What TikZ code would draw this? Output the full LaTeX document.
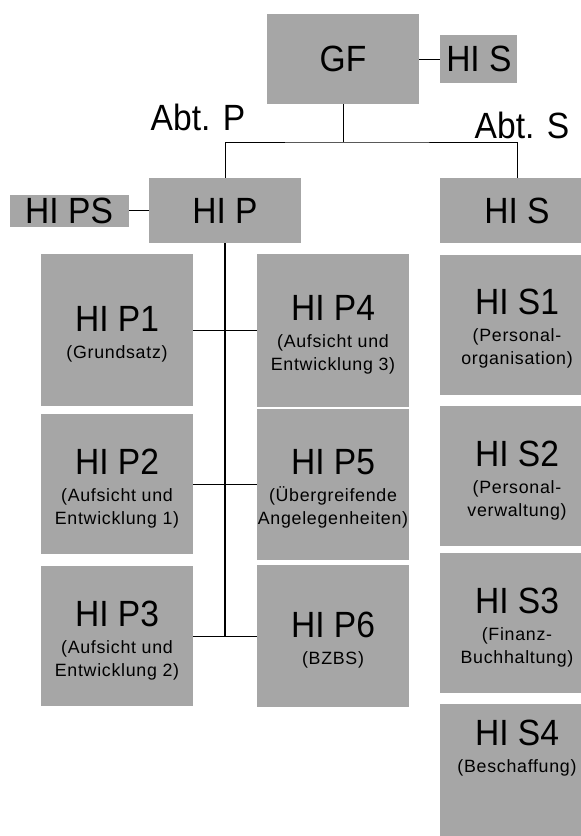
\documentclass[tikz,border=0pt]{standalone}
\usepackage{fontspec}
\setmainfont{Liberation Sans}
\newfontfamily\bigfamily[FakeStretch=0.92]{Liberation Sans}
\newfontfamily\smallfamily[LetterSpace=4]{Liberation Sans}
\usetikzlibrary{positioning}
\definecolor{unitgray}{RGB}{166,166,166}
\newcommand\bigsize{\bigfamily\fontsize{36.5}{40}\selectfont}
\newcommand\smallsize{\smallfamily\fontsize{17.8}{23}\selectfont}
\newcommand\unitname[1]{{\bigsize\rule{0pt}{34pt}#1}}

\begin{document}
\begin{tikzpicture}[x=1pt,y=-1pt,
  unit/.style={fill=unitgray,draw=none,inner sep=0pt,align=center,font=\smallsize},
  wide/.style={unit,minimum width=152pt},
  scol/.style={unit,minimum width=154pt,minimum height=140pt},
  link/.style={draw=black,line width=1pt},
  trunk/.style={draw=black,line width=2pt}]
\useasboundingbox (0,0) rectangle (581,836);
\clip (0,0) rectangle (581,836);

% top
\node[unit,minimum width=152pt,minimum height=90pt,font=\bigsize] (gf) at (343,59) {GF};
\node[unit,minimum width=77pt,minimum height=48pt,font=\bigsize,right=21pt of gf] (gfstab) {HI S};
\node[font=\bigsize] (abtp) at (198,117) {Abt. P};
\node[font=\bigsize] (abts) at (522,125) {Abt. S};

% Abteilungen
\node[wide,minimum height=65pt,font=\bigsize] (hip) at (225,210.5) {HI P};
\node[unit,minimum width=119pt,minimum height=32pt,font=\bigsize,left=20pt of hip] (hips) {HI PS};
\node[unit,minimum width=154pt,minimum height=65pt,font=\bigsize] (his) at (517,210.5) {HI S};

% Abt. P
\node[wide,minimum height=152pt] (hip1) at (117,330) {\unitname{HI P1}\\[4pt](Grundsatz)};
\node[wide,minimum height=140pt] (hip2) at (117,484) {\unitname{HI P2}\\[4pt](Aufsicht und\\Entwicklung 1)};
\node[wide,minimum height=140pt] (hip3) at (117,636) {\unitname{HI P3}\\[4pt](Aufsicht und\\Entwicklung 2)};
\node[wide,minimum height=153pt] (hip4) at (333,330) {\unitname{HI P4}\\[4pt](Aufsicht und\\Entwicklung 3)};
\node[wide,minimum height=151pt] (hip5) at (333,484) {\unitname{HI P5}\\[4pt](Übergreifende\\Angelegenheiten)};
\node[wide,minimum height=142pt] (hip6) at (333,636) {\unitname{HI P6}\\[4pt](BZBS)};

% Abt. S
\node[scol] (his1) at (517,324.5) {\unitname{HI S1}\\[4pt](Personal-\\organisation)};
\node[scol] (his2) at (517,476) {\unitname{HI S2}\\[4pt](Personal-\\verwaltung)};
\node[scol] (his3) at (517,623) {\unitname{HI S3}\\[4pt](Finanz-\\Buchhaltung)};
\node[scol] (his4) at (517,774) {\unitname{HI S4}\\[4pt](Beschaffung)\\[42pt]\mbox{}};

% lines
\coordinate (fork) at (343,142);
\draw[link] (gf.east) -- (gfstab.west);
\draw[link] (gf.south) -- (fork);
\draw[link] (hip.north) |- (fork) -| (his.north);
\draw[link] (hips.east) -- (hip.west);
\draw[trunk] (hip.south) -- (hip.south |- hip3.east);
\draw[link] (hip1.east) -- (hip4.west);
\draw[link] (hip2.east) -- (hip5.west);
\draw[link] (hip3.east) -- (hip6.west);

\end{tikzpicture}
\end{document}
